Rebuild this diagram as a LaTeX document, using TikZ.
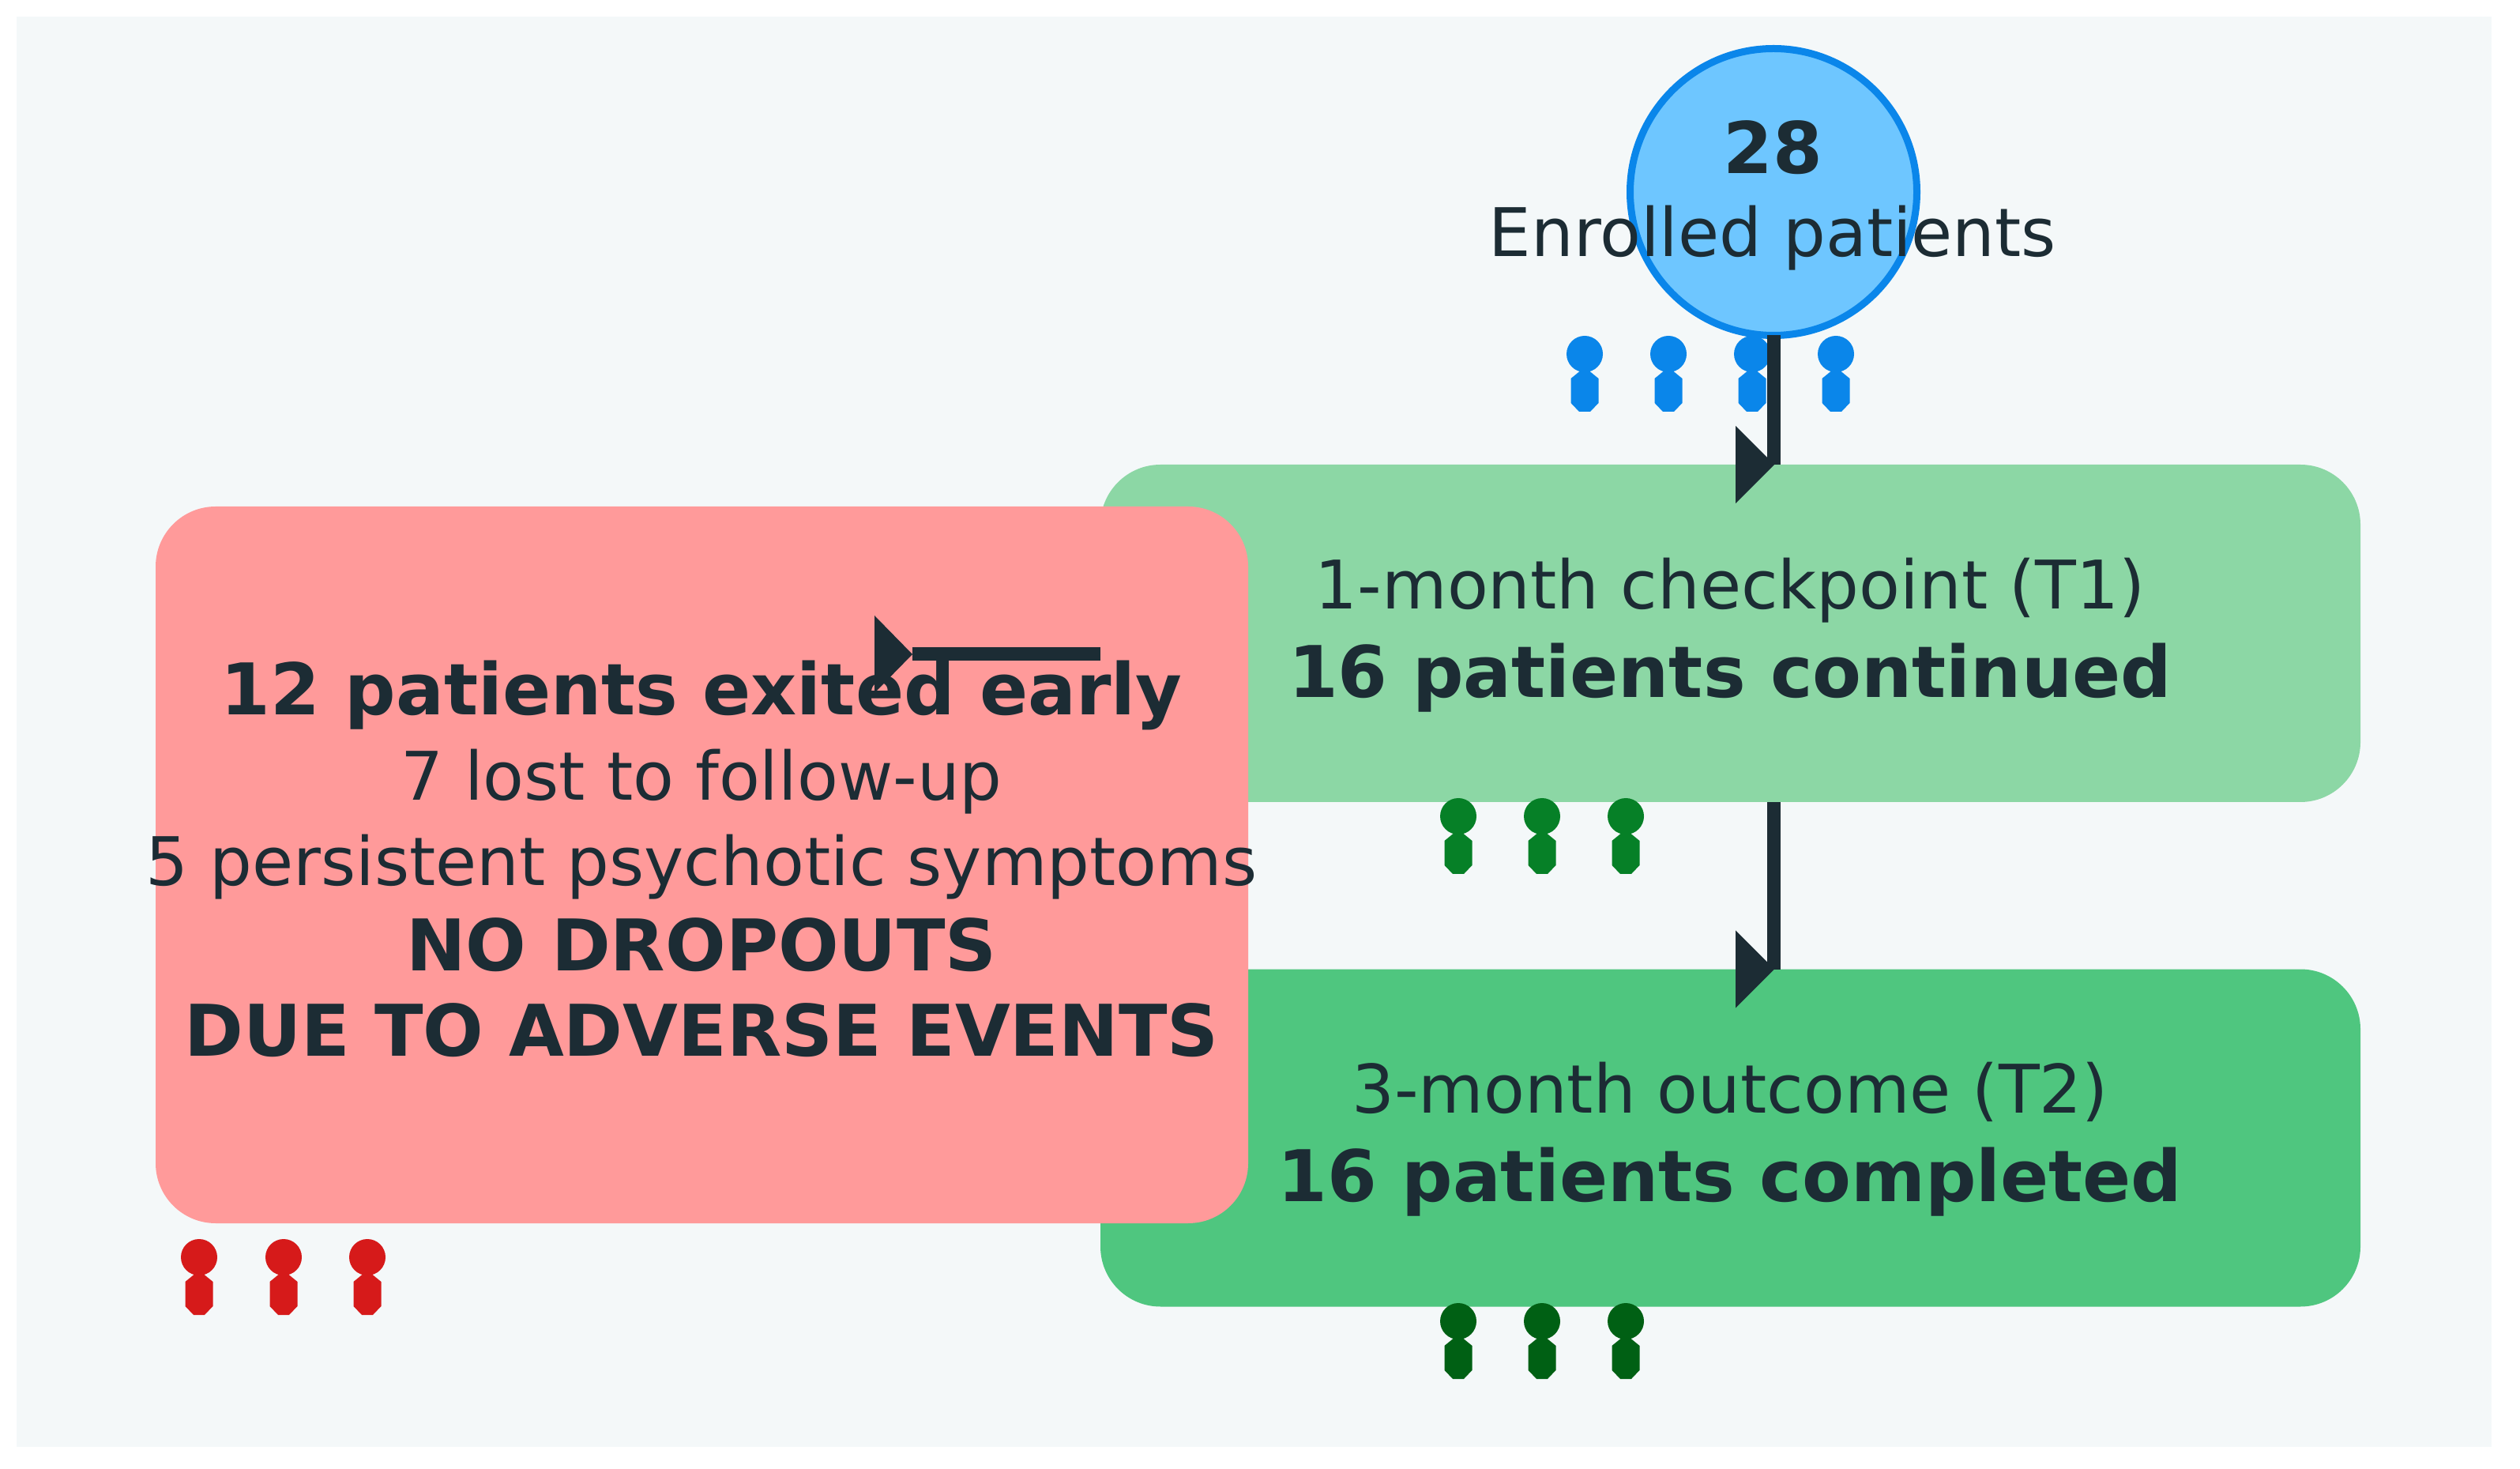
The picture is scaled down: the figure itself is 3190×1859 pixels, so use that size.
\documentclass[tikz,border=0pt]{standalone}
\usepackage{fontspec}
\setmainfont{DejaVu Sans}
\definecolor{pagebg}{HTML}{F4F8F9}
\definecolor{ink}{HTML}{1C2C34}
\definecolor{circfill}{HTML}{6EC6FF}
\definecolor{circline}{HTML}{0A86EA}
\definecolor{tone}{HTML}{8CD7A5}
\definecolor{ttwo}{HTML}{4FC67F}
\definecolor{redbox}{HTML}{FF9A9A}
\definecolor{figblue}{HTML}{0A86EA}
\definecolor{figred}{HTML}{D61A1A}
\definecolor{figgreen}{HTML}{068027}
\definecolor{figdark}{HTML}{006014}
\newcommand{\bigb}[1]{{\fontsize{22.55}{27}\selectfont\bfseries #1}}
\tikzset{
  x=0.25pt,y=-0.25pt,
  panel/.style={rounded corners=19pt,inner sep=0pt,outer sep=0pt,draw=none},
  greenbox/.style={panel,minimum width=398.75pt,minimum height=106.75pt},
  lbl/.style={inner sep=0pt,outer sep=0pt,align=center,text=ink,font=\fontsize{21.2}{27}\selectfont},
  link/.style={draw=ink,line width=4.25pt},
  person/.pic={
    \fill[pic actions] (0,0) circle[radius=23];
    \fill[pic actions] (-4,20) -- (4,20) -- (17.5,31) -- (17.5,62) -- (7,73) -- (-7,73) -- (-17.5,62) -- (-17.5,31) -- cycle;
  }
}
\begin{document}
\begin{tikzpicture}
\path[use as bounding box] (0,0) rectangle (3190,1859);
\fill[white] (0,0) rectangle (3190,1859);
\fill[pagebg] (21,21) rectangle (3154,1831);
\node[greenbox,fill=tone] (t1) at (2190.5,801.5) {};
\node[greenbox,fill=ttwo] (t2) at (2190.5,1440) {};
\node[panel,fill=redbox,minimum width=345.75pt,minimum height=226.75pt] (exit) at (888.5,1094.5) {};
\foreach \px in {2006,2112,2218,2324} \pic[fill=figblue] at (\px,448) {person};
\foreach \px in {1846,1952,2058} \pic[fill=figgreen] at (\px,1033) {person};
\foreach \px in {1846,1952,2058} \pic[fill=figdark] at (\px,1672) {person};
\foreach \px in {252,359,465} \pic[fill=figred] at (\px,1591) {person};
\node[circle,fill=circfill,draw=circline,line width=2.25pt,minimum size=90.75pt,inner sep=0pt,outer sep=0pt] (enrol) at (2245,243) {};
\coordinate (a1) at (enrol.south |- t1.north);
\coordinate (a2) at (enrol.south |- t2.north);
\coordinate (exitfrom) at (t1.west |- 0,828);
\coordinate (exitto) at (1155,828);
\draw[link] (enrol.south) -- (a1);
\fill[ink] (a1) ++(-48,-49) -- ++(0,98) -- ++(49,-49) -- cycle;
\draw[link] (t1.south -| a1) -- (a2);
\fill[ink] (a2) ++(-48,-49) -- ++(0,98) -- ++(49,-49) -- cycle;
\draw[link] (exitfrom) -- (exitto);
\fill[ink] (exitto) ++(-48,-49) -- ++(0,98) -- ++(48,-49) -- cycle;
\node[lbl] (enroltxt) at (2244,247.5) {\bigb{28}\\[-0.75pt]Enrolled patients};
\node[lbl] (t1txt) at (2190,804) {1-month checkpoint (T1)\\[1pt]\bigb{16 patients continued}};
\node[lbl] (t2txt) at (2190,1442) {3-month outcome (T2)\\[1pt]\bigb{16 patients completed}};
\node[lbl] (exittxt) at (888,1087) {\bigb{12 patients exited early}\\7 lost to follow-up\\5 persistent psychotic symptoms\\\bigb{NO DROPOUTS}\\\bigb{DUE TO ADVERSE EVENTS}};
\end{tikzpicture}
\end{document}
